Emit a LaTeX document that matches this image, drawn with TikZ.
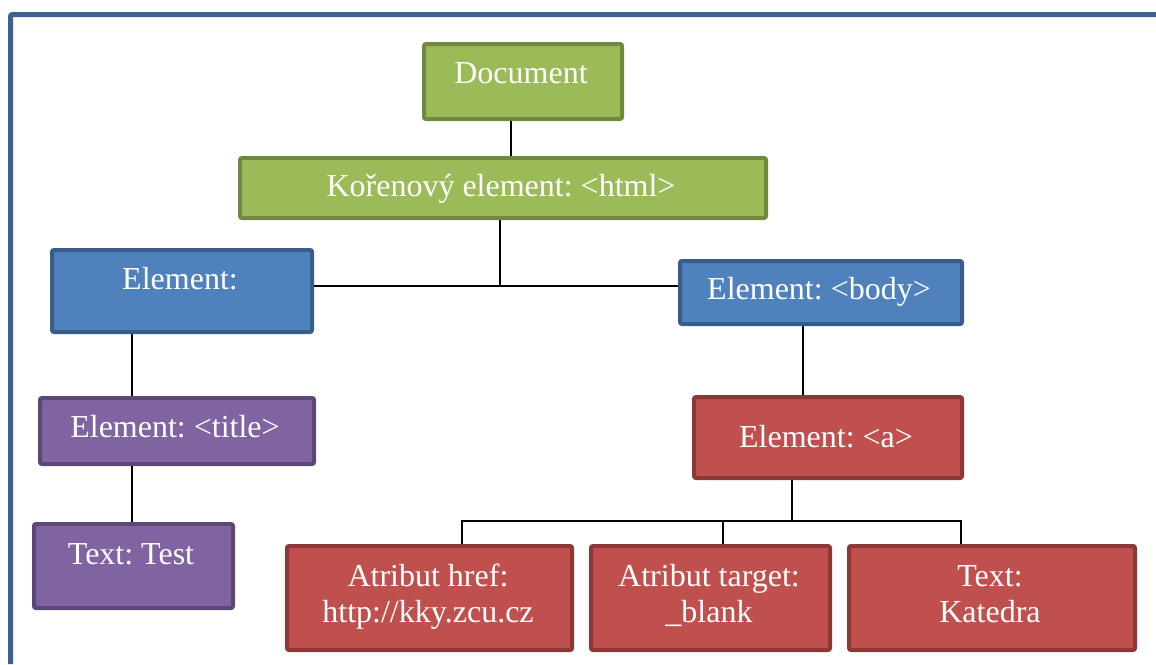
\documentclass[tikz,border=0pt]{standalone}
\usepackage{fontspec}
\setmainfont{Liberation Serif}
\frenchspacing
\usetikzlibrary{calc}
\definecolor{gfill}{HTML}{9BBB59}\definecolor{gline}{HTML}{71893F}
\definecolor{bfill}{HTML}{4F81BD}\definecolor{bline}{HTML}{385D8A}
\definecolor{pfill}{HTML}{8064A2}\definecolor{pline}{HTML}{5C4776}
\definecolor{rfill}{HTML}{C0504D}\definecolor{rline}{HTML}{8C3836}
\definecolor{frame}{HTML}{3B6192}
\pgfdeclarelayer{bg}\pgfsetlayers{bg,main}
\tikzset{
  box/.style={line width=4pt, rounded corners=2pt, inner sep=0pt, anchor=north west},
  greenbox/.style={box, fill=gfill, draw=gline},
  bluebox/.style={box, fill=bfill, draw=bline},
  purplebox/.style={box, fill=pfill, draw=pline},
  redbox/.style={box, fill=rfill, draw=rline},
  lbl/.style={text=white, font=\fontsize{32}{36}\selectfont\frenchspacing, inner sep=0pt, anchor=base, align=center},
  conn/.style={draw=black, line width=1.5pt}
}
\begin{document}
\begin{tikzpicture}[x=1pt,y=-1pt]
\useasboundingbox (0,0) rectangle (1156,664);
\draw[frame, line width=5pt, rounded corners=2pt] (10.5,664) -- (10.5,14.5) -- (1160,14.5);
% boxes
\node[greenbox, minimum width=198pt, minimum height=75pt] (doc) at (422,42) {};
\node[greenbox, minimum width=526pt, minimum height=60pt] (root) at (238,156) {};
\node[bluebox, minimum width=260pt, minimum height=82pt] (head) at (50,248) {};
\node[bluebox, minimum width=282pt, minimum height=63pt] (body) at (678,259) {};
\node[purplebox, minimum width=274pt, minimum height=66pt] (title) at (38,396) {};
\node[purplebox, minimum width=199pt, minimum height=84pt] (test) at (32,522) {};
\node[redbox, minimum width=268pt, minimum height=81pt] (a) at (692,395) {};
\node[redbox, minimum width=285pt, minimum height=104pt] (href) at (285,544) {};
\node[redbox, minimum width=239pt, minimum height=104pt] (target) at (589,544) {};
\node[redbox, minimum width=286pt, minimum height=104pt] (kat) at (847,544) {};
% texts
\node[lbl] (tdoc) at (521,83) {Document};
\node[lbl] (troot) at (501,196) {Kořenový element: <html>};
\node[lbl] (thead) at (180,289) {Element:};
\node[lbl] (tbody) at (819,299) {Element: <body>};
\node[lbl] (ttitle) at (175,437) {Element: <title>};
\node[lbl] (ttest) at (131,564) {Text: Test};
\node[lbl] (ta) at (826,447) {Element: <a>};
\node[lbl] (thref) at (428,622) {Atribut href:\\http://kky.zcu.cz};
\node[lbl] (ttarget) at (709,622) {Atribut target:\\\_blank};
\node[lbl] (tkat) at (990,622) {Text:\\Katedra};
% x positions of connectors
\coordinate (xa) at (511,0);
\coordinate (xb) at (500,0);
\coordinate (xc) at (132,0);
\coordinate (xd) at (803,0);
\coordinate (xe) at (792,0);
\coordinate (xf) at (462,0);
\coordinate (xg) at (723,0);
\coordinate (xh) at (961,0);
\coordinate (yj1) at (0,286);
\coordinate (yj2) at (0,521);
\begin{pgfonlayer}{bg}
\draw[conn] (doc.south -| xa) -- (root.north -| xa);
\draw[conn] (root.south -| xb) -- (xb |- yj1);
\draw[conn] (head.east |- yj1) -- (xb |- yj1) -- (body.west |- yj1);
\draw[conn] (head.south -| xc) -- (title.north -| xc);
\draw[conn] (title.south -| xc) -- (test.north -| xc);
\draw[conn] (body.south -| xd) -- (a.north -| xd);
\draw[conn] (a.south -| xe) -- (xe |- yj2);
\draw[conn] (href.north -| xf) -- (xf |- yj2) -- (xh |- yj2) -- (kat.north -| xh);
\draw[conn] (xg |- yj2) -- (target.north -| xg);
\end{pgfonlayer}
\end{tikzpicture}
\end{document}
